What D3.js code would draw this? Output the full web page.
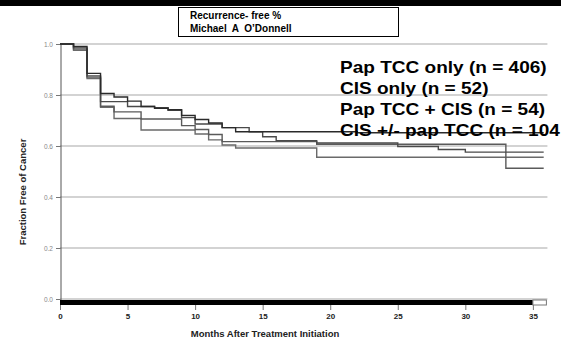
<!DOCTYPE html>
<html>
<head>
<meta charset="utf-8">
<script src="https://cdn.jsdelivr.net/npm/d3@7"></script>
<style>
  body { margin: 0; background: #fff; }
  svg { display: block; font-family: "Liberation Sans", Arial, sans-serif; }
</style>
</head>
<body>
<div id="chart"></div>
<script>
// Kaplan-Meier style recurrence-free curves
const yTicks = [0.0, 0.2, 0.4, 0.6, 0.8, 1.0];
const xTicks = [0, 5, 10, 15, 20, 25, 30, 35];

const legendLabels = [
    "Pap TCC only (n = 406)",
    "CIS only (n = 52)",
    "Pap TCC + CIS (n = 54)",
    "CIS +/- pap TCC (n = 104"
];

// step points for each curve (month, fraction free)
const papMonths = [0, 1, 2, 3, 4, 5, 6, 7, 8, 9, 10, 11, 12, 13, 22, 35.8];
const papValues = [1.0, 0.99, 0.885, 0.806, 0.792, 0.776, 0.755, 0.748, 0.742, 0.72, 0.704, 0.69, 0.672, 0.656, 0.652, 0.652];

const cisMonths = [0, 1, 2, 3, 5, 7, 8, 9, 10, 12, 14, 15, 16, 19, 25, 28, 30, 35.8];
const cisValues = [1.0, 0.985, 0.875, 0.774, 0.755, 0.75, 0.74, 0.712, 0.686, 0.672, 0.656, 0.636, 0.621, 0.612, 0.598, 0.586, 0.576, 0.576];

const bothMonths = [0, 1, 2, 3, 4, 6, 9, 10, 11, 12, 19, 33, 35.8];
const bothValues = [1.0, 0.98, 0.87, 0.756, 0.734, 0.706, 0.68, 0.665, 0.645, 0.617, 0.607, 0.513, 0.513];

const anyMonths = [0, 1, 2, 3, 4, 6, 10, 11, 12, 13, 19, 35.8];
const anyValues = [1.0, 0.975, 0.865, 0.752, 0.708, 0.663, 0.647, 0.624, 0.604, 0.592, 0.556, 0.556];

const series = [
    { months: papMonths, values: papValues, color: "#2a2a2a" },
    { months: cisMonths, values: cisValues, color: "#4a4a4a" },
    { months: bothMonths, values: bothValues, color: "#5a5a5a" },
    { months: anyMonths, values: anyValues, color: "#6a6a6a" }
];

const width = 561, height = 345;

const svg = d3.select("#chart").append("svg")
    .attr("width", width)
    .attr("height", height);

const x = d3.scaleLinear().domain([0, 36]).range([60, 546.4]);
const y = d3.scaleLinear().domain([0, 1]).range([299, 44]);

// black band along the top
svg.append("rect")
    .attr("x", 0).attr("y", 0)
    .attr("width", width).attr("height", 6)
    .attr("fill", "#000");

// gridlines
svg.selectAll(".grid")
    .data(yTicks)
    .enter()
    .append("line")
    .attr("x1", x(0)).attr("x2", x(36) + 1)
    .attr("y1", d => y(d)).attr("y2", d => y(d))
    .attr("stroke", "#c4c4c4")
    .attr("stroke-width", 1.5);

// y axis
const yAxis = d3.axisLeft(y)
    .tickValues(yTicks)
    .tickFormat(d3.format(".1f"))
    .tickSize(5)
    .tickPadding(3);

const gy = svg.append("g")
    .attr("transform", `translate(${x(0) + 1},0)`)
    .call(yAxis);
gy.select(".domain").attr("stroke", "#555").attr("d", `M0,${y(1)}V${y(0) + 6}`);
gy.selectAll(".tick line").attr("stroke", "#777");
gy.selectAll(".tick text")
    .attr("fill", "#888")
    .style("font-size", "6.5px");

// curves
const line = d3.line()
    .x(d => x(d[0]))
    .y(d => y(d[1]))
    .curve(d3.curveStepAfter);

series.slice().reverse().forEach(s => {
    const pts = s.months.map((m, i) => [m, s.values[i]]);
    svg.append("path")
        .datum(pts)
        .attr("fill", "none")
        .attr("stroke", s.color)
        .attr("stroke-width", 1.4)
        .attr("d", line);
});

// at-risk bar along the bottom
svg.append("rect")
    .attr("x", x(0)).attr("y", 300)
    .attr("width", x(35) - x(0)).attr("height", 5)
    .attr("fill", "#000");
svg.append("rect")
    .attr("x", x(35)).attr("y", 300)
    .attr("width", x(36) - x(35)).attr("height", 5)
    .attr("fill", "#fff")
    .attr("stroke", "#777")
    .attr("stroke-width", 1);

// x axis
const xAxis = d3.axisBottom(x)
    .tickValues(xTicks)
    .tickSize(5)
    .tickPadding(3);

const gx = svg.append("g")
    .attr("transform", "translate(0,305)")
    .call(xAxis);
gx.select(".domain").remove();
gx.selectAll(".tick line").attr("stroke", "#777");
gx.selectAll(".tick text")
    .attr("fill", "#222")
    .style("font-size", "8px")
    .style("font-weight", "bold");

// axis titles
svg.append("text")
    .attr("x", 265).attr("y", 337)
    .attr("text-anchor", "middle")
    .style("font-size", "9.5px")
    .style("font-weight", "bold")
    .attr("fill", "#222")
    .text("Months After Treatment Initiation");

svg.append("text")
    .attr("transform", "translate(26,192) rotate(-90)")
    .attr("text-anchor", "middle")
    .style("font-size", "9.5px")
    .style("font-weight", "bold")
    .attr("fill", "#222")
    .text("Fraction Free of Cancer");

// title box
svg.append("rect")
    .attr("x", 178.5).attr("y", 7.5)
    .attr("width", 220).attr("height", 29)
    .attr("fill", "#fff")
    .attr("stroke", "#000")
    .attr("stroke-width", 1);

svg.append("text")
    .attr("x", 190).attr("y", 19)
    .style("font-size", "10px")
    .style("font-weight", "bold")
    .text("Recurrence- free %");

svg.append("text")
    .attr("x", 190).attr("y", 32)
    .style("font-size", "10px")
    .style("font-weight", "bold")
    .style("white-space", "pre")
    .attr("xml:space", "preserve")
    .text("Michael  A  O\u2019Donnell");

// legend labels
const legend = svg.append("g")
    .attr("transform", "translate(340,0) scale(1.12,1)");

legend.selectAll("text")
    .data(legendLabels)
    .enter()
    .append("text")
    .attr("x", 0)
    .attr("y", (d, i) => 73 + i * 21)
    .style("font-size", "17px")
    .style("font-weight", "bold")
    .attr("fill", "#000")
    .text(d => d);
</script>
</body>
</html>
